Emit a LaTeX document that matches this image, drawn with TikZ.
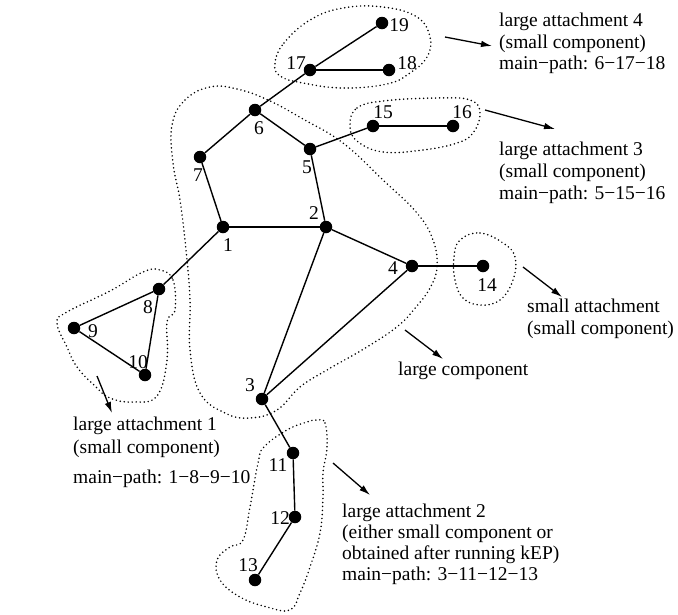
\documentclass[tikz,border=0pt]{standalone}
\usepackage{fontspec}
\setmainfont{Liberation Serif}
\usetikzlibrary{arrows.meta}
\tikzset{
  vtx/.style={circle, fill=black, inner sep=0pt, minimum size=12.5pt},
  vlab/.style={inner sep=0pt, font=\fontsize{19.5}{22}\selectfont},
  edge/.style={line width=1.4pt},
  hull/.style={line width=1.7pt, dash pattern=on 0pt off 4pt, line cap=round},
  pointer/.style={line width=1.3pt, -{Latex[length=11pt, width=6.5pt]}},
  caption/.style={anchor=base west, inner sep=0pt, font=\fontsize{19.5}{22}\selectfont}
}
\begin{document}
\begin{tikzpicture}[x=1pt, y=-1pt]
\useasboundingbox (0,0) rectangle (678,614);

% vertices
\node[vtx] (v1)  at (223,227) {};
\node[vtx] (v2)  at (326,227) {};
\node[vtx] (v3)  at (262,399) {};
\node[vtx] (v4)  at (412,266) {};
\node[vtx] (v5)  at (310,149) {};
\node[vtx] (v6)  at (255,110) {};
\node[vtx] (v7)  at (200,157) {};
\node[vtx] (v8)  at (159,289) {};
\node[vtx] (v9)  at (74,328) {};
\node[vtx] (v10) at (145,375) {};
\node[vtx] (v11) at (293,453) {};
\node[vtx] (v12) at (295,517) {};
\node[vtx] (v13) at (255,580) {};
\node[vtx] (v14) at (483,266) {};
\node[vtx] (v15) at (373,126) {};
\node[vtx] (v16) at (453,126) {};
\node[vtx] (v17) at (310,70) {};
\node[vtx] (v18) at (389,70) {};
\node[vtx] (v19) at (382,23) {};

% vertex numbers
\node[vlab] (l1)  at (228,245) {1};
\node[vlab] (l2)  at (314,213) {2};
\node[vlab] (l3)  at (250,385) {3};
\node[vlab] (l4)  at (393,268) {4};
\node[vlab] (l5)  at (307,167) {5};
\node[vlab] (l6)  at (259,128) {6};
\node[vlab] (l7)  at (198,175) {7};
\node[vlab] (l8)  at (148,307) {8};
\node[vlab] (l9)  at (93,331) {9};
\node[vlab] (l10) at (138,362) {10};
\node[vlab] (l11) at (278,465) {11};
\node[vlab] (l12) at (280,518) {12};
\node[vlab] (l13) at (248,565) {13};
\node[vlab] (l14) at (487,285) {14};
\node[vlab] (l15) at (383,112) {15};
\node[vlab] (l16) at (462,112) {16};
\node[vlab] (l17) at (296,63) {17};
\node[vlab] (l18) at (407,63) {18};
\node[vlab] (l19) at (399,25) {19};

% edges
\foreach \a/\b in {v1/v2, v1/v7, v7/v6, v6/v5, v5/v2, v2/v4, v2/v3, v3/v4,
                   v1/v8, v8/v9, v9/v10, v8/v10, v4/v14, v5/v15, v15/v16,
                   v6/v17, v17/v18, v17/v19, v3/v11, v11/v12, v12/v13}
  \draw[edge] (\a) -- (\b);

% dotted hulls
\draw[hull] plot[smooth cycle, tension=0.7] coordinates {
  (172,125) (185,100) (210,87) (237,89) (268,100) (303,119) (343,143)
  (383,180) (417,213) (433,240) (437,267) (430,288) (416,307) (398,326)
  (367,347) (327,370) (300,387) (277,410) (250,418) (225,413) (200,393)
  (190,350) (190,300) (186,250) (180,200) (173,163)};
\draw[hull] plot[smooth cycle, tension=0.7] coordinates {
  (275,63) (284,43) (310,20) (343,8) (383,7) (417,17) (430,37) (427,57)
  (410,73) (387,84) (343,88) (303,83) (280,76)};
\draw[hull] plot[smooth cycle, tension=0.7] coordinates {
  (350,125) (357,108) (383,101) (437,98) (470,100) (480,113) (473,133)
  (457,143) (423,150) (383,152) (357,141)};
\draw[hull] plot[smooth cycle, tension=0.7] coordinates {
  (460,240) (480,233) (503,243) (515,257) (513,280) (500,300) (480,305)
  (463,298) (455,280) (454,257)};
\draw[hull] plot[smooth cycle, tension=0.7] coordinates {
  (160,270) (173,280) (175,310) (167,322) (167,360) (157,396) (133,402)
  (110,398) (95,386) (77,367) (67,347) (57,323) (67,312) (110,291) (143,272)};
\draw[hull] plot[smooth cycle, tension=0.7] coordinates {
  (317,420) (325,423) (327,447) (323,473) (323,497) (320,533) (310,567)
  (300,593) (290,610) (267,607) (240,597) (220,580) (217,560) (230,547)
  (243,540) (250,507) (258,463) (264,447) (287,430) (307,422)};

% pointers to the descriptions
\coordinate (p4a) at (445,37);  \coordinate (p4b) at (492,46);
\coordinate (p3a) at (485,110); \coordinate (p3b) at (555,129);
\coordinate (psa) at (523,267); \coordinate (psb) at (562,297);
\coordinate (pca) at (405,330); \coordinate (pcb) at (443,359);
\coordinate (p1a) at (97,376);  \coordinate (p1b) at (112,413);
\coordinate (p2a) at (333,463); \coordinate (p2b) at (370,495);
\draw[pointer] (p4a) -- (p4b);
\draw[pointer] (p3a) -- (p3b);
\draw[pointer] (psa) -- (psb);
\draw[pointer] (pca) -- (pcb);
\draw[pointer] (p1a) -- (p1b);
\draw[pointer] (p2a) -- (p2b);

% descriptions
\node[caption] (t4a) at (499,26) {large attachment 4};
\node[caption] (t4b) at (499,48) {(small component)};
\node[caption] (t4c) at (499,69) {main−path: 6−17−18};

\node[caption] (t3a) at (499,155) {large attachment 3};
\node[caption] (t3b) at (499,177) {(small component)};
\node[caption] (t3c) at (499,199) {main−path: 5−15−16};

\node[caption] (tsa) at (527,312) {small attachment};
\node[caption] (tsb) at (527,334) {(small component)};

\node[caption] (tca) at (398,375) {large component};

\node[caption] (t1a) at (73,430) {large attachment 1};
\node[caption] (t1b) at (73,453) {(small component)};
\node[caption] (t1c) at (73,483) {main−path: 1−8−9−10};

\node[caption] (t2a) at (342,517) {large attachment 2};
\node[caption] (t2b) at (342,538) {(either small component or};
\node[caption] (t2c) at (342,559) {obtained after running kEP)};
\node[caption] (t2d) at (342,580) {main−path: 3−11−12−13};
\end{tikzpicture}
\end{document}
